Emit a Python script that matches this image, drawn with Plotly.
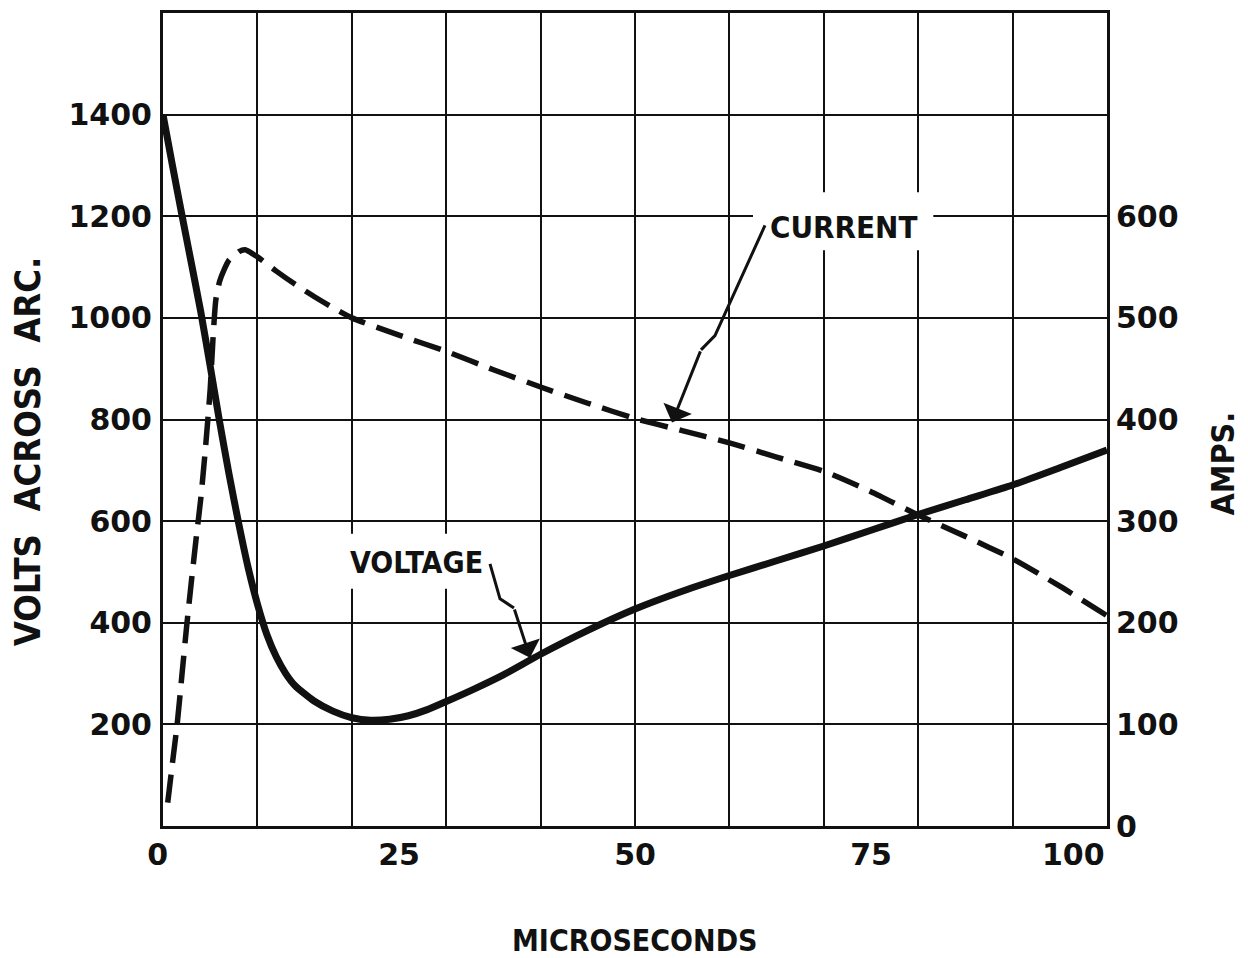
import plotly.graph_objects as go

# ---------------- data ----------------
volt_t = [0, 1, 2, 3, 4, 5, 6, 7, 8, 9, 10, 11, 12, 13, 14, 16, 18, 20, 22, 24, 26, 28, 30,
          33, 36, 40, 45, 50, 55, 60, 65, 70, 75, 80, 85, 90, 95, 100]
volt_v = [1400, 1300, 1203, 1108, 1012, 905, 795, 692, 597, 510, 437, 377, 333, 300, 276, 246,
          226, 213, 208, 210, 217, 229, 245, 270, 297, 338, 385, 427, 462, 493, 522, 551, 582,
          613, 642, 671, 705, 740]

amp_t = [0.5, 1, 1.5, 2, 2.5, 3, 3.5, 4, 4.5, 5, 5.3, 5.6, 6, 6.5, 7, 8, 8.7, 10, 12, 14, 16, 18,
         20, 25, 30, 35, 40, 45, 50, 55, 60, 65, 70, 75, 80, 85, 90, 95, 100]
amp_a = [23, 62, 100, 148, 196, 240, 282, 322, 372, 430, 480, 518, 536, 548, 557, 565, 567, 560,
         546, 533, 521, 510, 500, 483, 467, 449, 432, 416, 401, 389, 377, 363, 349, 329, 306, 285,
         263, 236, 207]

x_ticks = [0, 25, 50, 75, 100]
x_ticktext = ["0&nbsp;", "25", "50", "75", ""]   # "100" is placed as a right-aligned label below
x_last_label = "100"
v_ticks = [200, 400, 600, 800, 1000, 1200, 1400]
a_ticks = [0, 100, 200, 300, 400, 500, 600]

FONT = "DejaVu Sans"
LBL = "DejaVu Sans Condensed, Liberation Sans Narrow, DejaVu Sans"
INK = "#111111"

fig = go.Figure()
fig.add_trace(go.Scatter(x=volt_t, y=volt_v, mode="lines", name="VOLTAGE",
                         line=dict(color=INK, width=7, shape="spline", smoothing=0.6),
                         xaxis="x", yaxis="y", hoverinfo="skip"))
fig.add_trace(go.Scatter(x=amp_t, y=amp_a, mode="lines", name="CURRENT",
                         line=dict(color=INK, width=5.5, dash="28px,12px", shape="spline", smoothing=0.6),
                         xaxis="x2", yaxis="y2", hoverinfo="skip"))

tickfont = dict(family=FONT, size=30, color=INK, weight="bold")

fig.update_layout(
    width=1240, height=950, autosize=False,
    margin=dict(l=155, r=141, t=2, b=132, pad=0),
    paper_bgcolor="white", plot_bgcolor="white",
    showlegend=False,
    xaxis=dict(range=[0, 100], tickvals=x_ticks, ticktext=x_ticktext, showgrid=False,
               zeroline=False, showline=True, mirror=True, linecolor=INK, linewidth=3,
               ticks="", tickfont=tickfont, ticklabelstandoff=0, fixedrange=True),
    xaxis2=dict(range=[0, 100], overlaying="x", anchor="y", dtick=10, tick0=0, showgrid=True,
                gridcolor=INK, gridwidth=2, showticklabels=False, zeroline=False,
                showline=False, ticks=""),
    yaxis=dict(range=[0, 1600], tickvals=v_ticks, showgrid=True, gridcolor=INK, gridwidth=2,
               zeroline=False, showline=True, mirror=True, linecolor=INK, linewidth=3,
               ticks="", tickfont=tickfont, ticklabelstandoff=2),
    yaxis2=dict(range=[0, 800], tickvals=a_ticks, overlaying="y", side="right", anchor="x",
                showgrid=False, zeroline=False, showline=False, ticks="", tickfont=tickfont,
                ticklabelstandoff=8),
)

# white gaps in the grid behind the curve labels
fig.add_shape(type="rect", xref="x", yref="y", x0=62.5, x1=81.6, y0=1133, y1=1247,
              fillcolor="white", line=dict(width=0), layer="between")
fig.add_shape(type="rect", xref="x", yref="y", x0=19.6, x1=34.2, y0=467, y1=575,
              fillcolor="white", line=dict(width=0), layer="between")

# lightning-bolt leader lines
fig.add_shape(type="path", xref="x", yref="y", path="M 63.77,1182 L 58.47,965 L 56.99,937",
              line=dict(color=INK, width=3), layer="above")
fig.add_shape(type="path", xref="x", yref="y", path="M 34.64,516 L 35.70,447 L 37.18,429",
              line=dict(color=INK, width=3), layer="above")

annos = [
    dict(x=53.92, y=794, ax=56.99, ay=937, axref="x", ayref="y", xref="x", yref="y",
         text="", showarrow=True, arrowhead=1, arrowsize=1.7, arrowwidth=3, arrowcolor=INK),
    dict(x=38.88, y=331, ax=37.18, ay=429, axref="x", ayref="y", xref="x", yref="y",
         text="", showarrow=True, arrowhead=1, arrowsize=1.7, arrowwidth=3, arrowcolor=INK),
    dict(x=x_ticks[-1], y=-0.035, xref="x", yref="paper", text=x_last_label, showarrow=False,
         xanchor="right", yanchor="middle", font=tickfont),
    dict(x=72.14, y=1178, xref="x", yref="y", text="CURRENT", showarrow=False,
         font=dict(family=LBL, size=31, color=INK, weight="bold")),
    dict(x=26.9, y=518, xref="x", yref="y", text="VOLTAGE", showarrow=False,
         font=dict(family=LBL, size=30, color=INK, weight="bold")),
    dict(x=0.5, y=-0.141, xref="paper", yref="paper", text="MICROSECONDS", showarrow=False,
         yanchor="middle", font=dict(family=LBL, size=30, color=INK, weight="bold")),
    dict(x=-0.1432, y=0.4608, xref="paper", yref="paper", text="VOLTS&nbsp;&nbsp;ACROSS&nbsp;&nbsp;ARC.",
         showarrow=False, textangle=-90, xanchor="center", yanchor="middle",
         font=dict(family=LBL, size=36, color=INK, weight="bold")),
    dict(x=1.123, y=0.446, xref="paper", yref="paper", text="AMPS.", showarrow=False,
         textangle=-90, xanchor="center", yanchor="middle",
         font=dict(family=LBL, size=32, color=INK, weight="bold")),
]
fig.update_layout(annotations=annos)

fig.write_html("out.html")
